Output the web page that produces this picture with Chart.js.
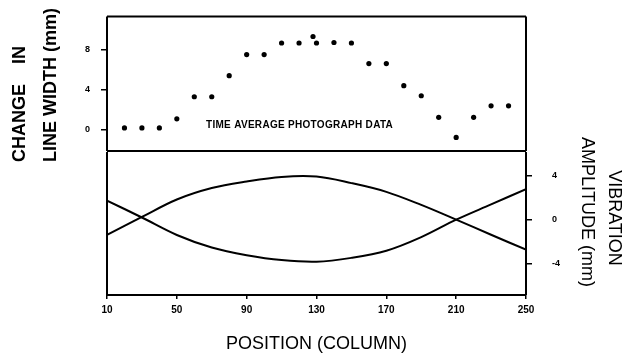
<!DOCTYPE html>
<html>
<head>
<meta charset="utf-8">
<script src="https://cdn.jsdelivr.net/npm/chart.js@4.4.1/dist/chart.umd.min.js"></script>
<style>
  html, body { margin: 0; padding: 0; background: #fff; overflow: hidden; }
  #wrap { position: relative; width: 622px; height: 356px; }
  canvas { position: absolute; left: 0; top: 0; }
</style>
</head>
<body>
<div id="wrap">
  <canvas id="topChart" width="622" height="356"></canvas>
  <canvas id="bottomChart" width="622" height="356"></canvas>
</div>
<script>
// top panel - time average photograph data (change in line width, mm)
const photoPositions = [20, 30, 40, 50, 60, 70, 80, 90, 100, 110, 120, 128, 130, 140, 150, 160, 170, 180, 190, 200, 210, 220, 230, 240];
const photoWidths = [0.2, 0.2, 0.2, 1.1, 3.3, 3.3, 5.4, 7.5, 7.5, 8.65, 8.65, 9.3, 8.65, 8.7, 8.65, 6.6, 6.6, 4.4, 3.4, 1.25, -0.75, 1.25, 2.4, 2.4];
const widthTicks = [0, 4, 8];

// bottom panel - vibration amplitude of the two curves
const modePositions = [10, 30, 50, 70, 90, 110, 130, 150, 170, 190, 210, 230, 250];
const modeA = [-1.4, 0.25, 1.85, 2.9, 3.5, 3.92, 3.95, 3.35, 2.55, 1.35, 0.0, -1.38, -2.75];
const modeB = [1.75, 0.2, -1.4, -2.55, -3.25, -3.7, -3.85, -3.5, -2.85, -1.6, 0.0, 1.4, 2.8];
const ampTicks = [-4, 0, 4];
const positionTicks = [10, 50, 90, 130, 170, 210, 250];

const FONT = "'Liberation Sans', Arial, sans-serif";

// box round the plot area
const frame = {
  id: 'frame',
  afterDraw(chart, args, opts) {
    const { ctx, chartArea: a } = chart;
    ctx.save();
    ctx.strokeStyle = '#000';
    ctx.lineWidth = 2;
    ctx.beginPath();
    if (opts.top) { ctx.moveTo(a.left, a.top); ctx.lineTo(a.right, a.top); }
    ctx.moveTo(a.left, a.top); ctx.lineTo(a.left, a.bottom);
    ctx.moveTo(a.left, a.bottom); ctx.lineTo(a.right, a.bottom);
    ctx.moveTo(a.right, a.top); ctx.lineTo(a.right, a.bottom);
    ctx.stroke();
    ctx.restore();
  }
};

// rotated side titles and the note inside the top panel
const texts = {
  id: 'texts',
  afterDraw(chart, args, opts) {
    const ctx = chart.ctx;
    (opts.items || []).forEach(t => {
      let x = t.x, y = t.y;
      if (t.value) {
        x = chart.scales.x.getPixelForValue(t.value[0]);
        y = chart.scales.y.getPixelForValue(t.value[1]);
      }
      ctx.save();
      ctx.translate(x, y);
      ctx.rotate(t.angle || 0);
      ctx.font = t.font;
      ctx.letterSpacing = t.spacing || '0px';
      ctx.fillStyle = '#000';
      ctx.textAlign = t.align || 'center';
      ctx.textBaseline = 'middle';
      ctx.fillText(t.text, 0, 0);
      ctx.restore();
    });
  }
};

new Chart(document.getElementById('topChart'), {
  type: 'scatter',
  data: {
    datasets: [{
      data: photoPositions.map((p, i) => ({ x: p, y: photoWidths[i] })),
      pointRadius: 2.6,
      pointBackgroundColor: '#000',
      pointBorderWidth: 0
    }]
  },
  options: {
    responsive: false,
    animation: false,
    layout: { padding: { left: 0, top: 11, right: 96, bottom: 205 } },
    plugins: {
      legend: { display: false },
      tooltip: { enabled: false },
      frame: { top: true },
      texts: {
        items: [
          { text: 'CHANGE    IN', x: 20, y: 104, angle: -Math.PI / 2, font: 'bold 18px ' + FONT },
          { text: 'LINE WIDTH (mm)', x: 51, y: 85, angle: -Math.PI / 2, font: 'bold 18px ' + FONT },
          { text: 'TIME AVERAGE PHOTOGRAPH DATA', value: [66.7, 0.5], align: 'left', font: 'bold 10px ' + FONT, spacing: '0.3px' }
        ]
      }
    },
    scales: {
      x: { type: 'linear', display: false, min: 10, max: 250 },
      y: {
        min: -2.1,
        max: 11.3,
        afterFit: s => { s.width = 107; },
        afterBuildTicks: s => { s.ticks = widthTicks.map(v => ({ value: v })); },
        ticks: { color: '#000', padding: 11, font: { family: FONT, size: 9, weight: 'bold' } },
        grid: { drawOnChartArea: false, tickLength: 6, color: '#000', lineWidth: 1.5 },
        border: { display: false }
      }
    }
  },
  plugins: [frame, texts]
});

new Chart(document.getElementById('bottomChart'), {
  type: 'line',
  data: {
    datasets: [
      { data: modePositions.map((p, i) => ({ x: p, y: modeA[i] })), borderColor: '#000', borderWidth: 2, pointRadius: 0, tension: 0.35 },
      { data: modePositions.map((p, i) => ({ x: p, y: modeB[i] })), borderColor: '#000', borderWidth: 2, pointRadius: 0, tension: 0.35 }
    ]
  },
  options: {
    responsive: false,
    animation: false,
    layout: { padding: { left: 107, top: 152, right: 0, bottom: 0 } },
    plugins: {
      legend: { display: false },
      tooltip: { enabled: false },
      frame: { top: false },
      texts: {
        items: [
          { text: 'VIBRATION', x: 614, y: 218, angle: Math.PI / 2, font: '18px ' + FONT },
          { text: 'AMPLITUDE (mm)', x: 587, y: 212, angle: Math.PI / 2, font: '18px ' + FONT }
        ]
      }
    },
    scales: {
      x: {
        type: 'linear',
        min: 10,
        max: 250,
        afterFit: s => { s.height = 61; },
        afterBuildTicks: s => { s.ticks = positionTicks.map(v => ({ value: v })); },
        ticks: { color: '#000', padding: 5, maxRotation: 0, font: { family: FONT, size: 10, weight: 'bold' } },
        grid: { drawOnChartArea: false, tickLength: 4, color: '#000', lineWidth: 1.5 },
        border: { display: false },
        title: { display: true, text: 'POSITION (COLUMN)', color: '#000', padding: { top: 0, bottom: 1 }, font: { family: FONT, size: 18 } }
      },
      y: {
        position: 'right',
        min: -6.9,
        max: 6.2,
        afterFit: s => { s.width = 96; },
        afterBuildTicks: s => { s.ticks = ampTicks.map(v => ({ value: v })); },
        ticks: { color: '#000', padding: 20, font: { family: FONT, size: 9, weight: 'bold' } },
        grid: { drawOnChartArea: false, tickLength: 6, color: '#000', lineWidth: 1.5 },
        border: { display: false }
      }
    }
  },
  plugins: [frame, texts]
});
</script>
</body>
</html>
